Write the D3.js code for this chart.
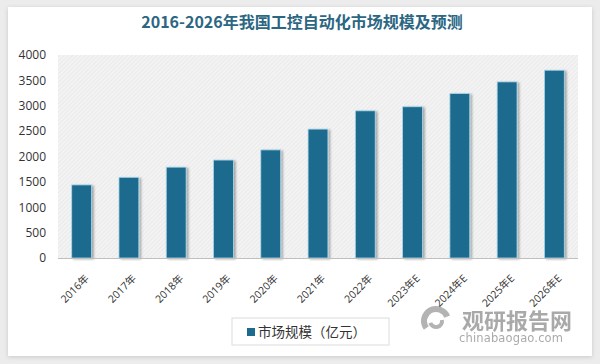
<!DOCTYPE html>
<html>
<head>
<meta charset="utf-8">
<script src="https://cdn.jsdelivr.net/npm/d3@7"></script>
<style>
  body { margin: 0; background: #ececec; }
  svg { display: block; font-family: "Noto Sans CJK SC", "Open Sans", sans-serif; }
</style>
</head>
<body>
<div id="chart"></div>
<script>
(function() {
  var years = ['2016年', '2017年', '2018年', '2019年', '2020年', '2021年', '2022年', '2023年E', '2024年E', '2025年E', '2026年E'];
  var marketSize = [1440, 1590, 1790, 1930, 2130, 2540, 2900, 2980, 3240, 3470, 3700];
  var yTicks = [0, 500, 1000, 1500, 2000, 2500, 3000, 3500, 4000];
  var title = '2016-2026年我国工控自动化市场规模及预测';
  var legendLabel = '市场规模（亿元）';

  var width = 600, height = 364;
  var margin = { top: 55, right: 22, bottom: 106, left: 58 };
  var barColor = '#1c6a8e';

  var svg = d3.select('#chart').append('svg')
    .attr('width', width).attr('height', height);

  var defs = svg.append('defs');
  var pat = defs.append('pattern').attr('id', 'hatch')
    .attr('patternUnits', 'userSpaceOnUse').attr('width', 3).attr('height', 3)
    .attr('patternTransform', 'rotate(45)');
  pat.append('rect').attr('width', 3).attr('height', 3).attr('fill', '#f3f3f3');
  pat.append('line').attr('x1', 0).attr('y1', 0).attr('x2', 0).attr('y2', 3)
    .attr('stroke', '#e2e2e2').attr('stroke-width', 1);

  var sh = defs.append('filter').attr('id', 'shadow')
    .attr('x', '-20%').attr('y', '-20%').attr('width', '160%').attr('height', '140%');
  sh.append('feDropShadow').attr('dx', 2).attr('dy', 1).attr('stdDeviation', 1.2)
    .attr('flood-color', '#000').attr('flood-opacity', 0.3);

  var cardShadow = defs.append('filter').attr('id', 'card')
    .attr('x', '-5%').attr('y', '-5%').attr('width', '110%').attr('height', '110%');
  cardShadow.append('feDropShadow').attr('dx', 0).attr('dy', 1).attr('stdDeviation', 2)
    .attr('flood-color', '#000').attr('flood-opacity', 0.15);

  // white card
  svg.append('rect').attr('x', 8).attr('y', 7).attr('width', 584).attr('height', 349)
    .attr('fill', '#fff').attr('filter', 'url(#card)');

  svg.append('text').attr('x', 302).attr('y', 28).attr('text-anchor', 'middle')
    .attr('font-size', 16).attr('font-weight', 'bold').attr('fill', '#2b6683')
    .text(title);

  var x = d3.scaleBand().domain(years)
    .range([margin.left, width - margin.right]).paddingInner(0.58).paddingOuter(0.29);
  var y = d3.scaleLinear().domain([0, 4000])
    .range([height - margin.bottom, margin.top]);

  svg.append('rect')
    .attr('x', margin.left).attr('y', y(4000))
    .attr('width', width - margin.right - margin.left).attr('height', y(0) - y(4000))
    .attr('fill', 'url(#hatch)');

  var yAxis = svg.append('g').attr('transform', 'translate(' + (margin.left - 12) + ',0)')
    .call(d3.axisLeft(y).tickValues(yTicks).tickFormat(d3.format('d')).tickSize(0).tickPadding(0));
  yAxis.select('.domain').remove();
  yAxis.selectAll('text').attr('font-size', 12).attr('fill', '#333')
    .attr('font-family', '"Open Sans", sans-serif');

  svg.append('g').selectAll('rect').data(marketSize).enter().append('rect')
    .attr('x', function(d, i) { return x(years[i]); })
    .attr('y', function(d) { return y(d); })
    .attr('width', x.bandwidth())
    .attr('height', function(d) { return y(0) - y(d); })
    .attr('fill', barColor)
    .attr('stroke', '#a9d6ea').attr('stroke-width', 0.8)
    .attr('filter', 'url(#shadow)');

  var xAxis = svg.append('g').attr('transform', 'translate(0,' + y(0) + ')')
    .call(d3.axisBottom(x).tickSize(0).tickPadding(0));
  xAxis.select('.domain').attr('stroke', '#bfbfbf').attr('d', 'M' + margin.left + ',0.5H' + (width - margin.right));
  xAxis.selectAll('text')
    .attr('font-size', 10.5).attr('fill', '#333')
    .attr('font-family', '"Open Sans", "Noto Sans CJK SC", sans-serif')
    .attr('text-anchor', 'end')
    .attr('dy', null).attr('y', 0)
    .attr('transform', 'translate(8,21) rotate(-45)');

  // legend
  var lg = svg.append('g');
  lg.append('rect').attr('x', 232).attr('y', 318).attr('width', 157).attr('height', 27)
    .attr('fill', '#fff').attr('stroke', '#dcdcdc');
  lg.append('rect').attr('x', 247).attr('y', 328).attr('width', 8).attr('height', 8)
    .attr('fill', barColor);
  lg.append('text').attr('x', 258).attr('y', 337).attr('font-size', 13.5).attr('fill', '#333')
    .text(legendLabel);

  // watermark
  var wm = svg.append('g').attr('fill', '#9a9a9a').attr('opacity', 0.75);
  var arc = d3.arc();
  wm.append('path').attr('transform', 'translate(436,321)')
    .attr('d', arc({ innerRadius: 9, outerRadius: 15, startAngle: -2.2, endAngle: 1.2 }));
  wm.append('path').attr('transform', 'translate(436,321)')
    .attr('d', arc({ innerRadius: 4, outerRadius: 8, startAngle: 1.4, endAngle: 4.4 }));
  wm.append('text').attr('x', 462).attr('y', 329).attr('font-size', 22).attr('font-weight', 'bold')
    .attr('fill', '#8d8d8d').text('观研报告网');
  wm.append('text').attr('x', 459).attr('y', 342).attr('font-size', 11.5)
    .attr('font-family', '"DejaVu Sans", sans-serif').attr('fill', '#8d8d8d')
    .attr('textLength', 104).text('chinabaogao.com');
})();
</script>
</body>
</html>
